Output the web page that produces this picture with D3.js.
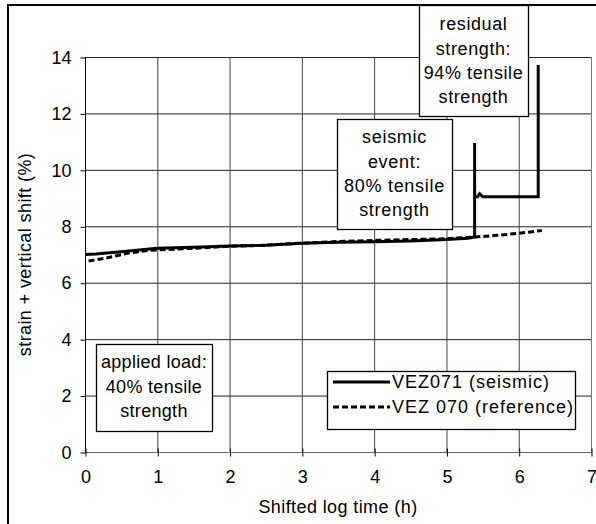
<!DOCTYPE html>
<html>
<head>
<meta charset="utf-8">
<script src="https://cdn.jsdelivr.net/npm/d3@7"></script>
<style>
  html, body { margin: 0; padding: 0; background: #fff; }
  svg { display: block; }
  text { font-family: "Liberation Sans", Arial, sans-serif; font-size: 18px; fill: #000; }
</style>
</head>
<body>
<svg id="chart" width="596" height="524"></svg>
<script>
// ---- data ----
const xTicks = [0, 1, 2, 3, 4, 5, 6, 7];
const yTicks = [0, 2, 4, 6, 8, 10, 12, 14];

const seismicX = [0, 0.15, 0.5, 1.0, 1.5, 2.0, 2.5, 3.0, 3.5, 4.0, 4.5, 5.0, 5.3, 5.39, 5.39, 5.39, 5.43, 5.46, 5.5, 6.0, 6.27, 6.27];
const seismicY = [7.0, 7.02, 7.1, 7.22, 7.26, 7.3, 7.33, 7.4, 7.43, 7.45, 7.48, 7.53, 7.58, 7.62, 10.95, 9.05, 9.05, 9.15, 9.05, 9.05, 9.05, 13.72];

const refX = [0.05, 0.3, 0.6, 0.9, 1.5, 2.0, 2.5, 3.0, 3.5, 4.0, 4.5, 5.0, 5.4, 5.7, 6.0, 6.32];
const refY = [6.77, 6.88, 7.05, 7.15, 7.22, 7.29, 7.33, 7.4, 7.46, 7.5, 7.53, 7.56, 7.62, 7.68, 7.75, 7.85];

const seriesNames = ["VEZ071 (seismic)", "VEZ 070 (reference)"];
const xTitle = "Shifted log time (h)";
const yTitle = "strain + vertical shift (%)";

const notes = [
  { lines: ["residual", "strength:", "94% tensile", "strength"] },
  { lines: ["seismic", "event:", "80% tensile", "strength"] },
  { lines: ["applied load:", "40% tensile", "strength"] }
];

// ---- layout ----
const svg = d3.select("#chart");
const plot = { left: 85, right: 591, top: 57, bottom: 452 };

const x = d3.scaleLinear().domain([0, 7]).range([plot.left, plot.right]);
const y = d3.scaleLinear().domain([0, 14]).range([plot.bottom, plot.top]);

// outer frame
svg.append("rect").attr("x", 8).attr("y", 5).attr("width", 620).attr("height", 560)
  .attr("fill", "none").attr("stroke", "#000").attr("stroke-width", 2);

// grid
const grid = svg.append("g");
grid.selectAll(".gy").data(yTicks.filter(d => d > 0)).enter().append("line")
  .attr("x1", plot.left).attr("x2", plot.right)
  .attr("y1", d => y(d) + 0.5).attr("y2", d => y(d) + 0.5)
  .attr("stroke", "#222").attr("stroke-width", 1);
grid.selectAll(".gx").data(xTicks.filter(d => d > 0 && d < 7)).enter().append("line")
  .attr("y1", plot.top).attr("y2", plot.bottom)
  .attr("x1", d => x(d) + 0.5).attr("x2", d => x(d) + 0.5)
  .attr("stroke", "#444").attr("stroke-width", 1);
// right border
svg.append("line").attr("x1", x(7) + 0.5).attr("x2", x(7) + 0.5)
  .attr("y1", plot.top).attr("y2", plot.bottom)
  .attr("stroke", "#777").attr("stroke-width", 1);

// axes
const xAxis = d3.axisBottom(x).tickValues(xTicks).tickSize(4).tickPadding(18).tickFormat(d3.format("d"));
const gx = svg.append("g").attr("transform", `translate(0.5,${plot.bottom + 0.5})`).call(xAxis);
gx.select(".domain").attr("stroke", "#666").attr("d", `M${plot.left},0H${plot.right}`);
gx.selectAll(".tick line").attr("y1", -4).attr("y2", 4).attr("stroke", "#000");
gx.selectAll(".tick text").attr("font-size", 18).attr("font-family", "Liberation Sans, Arial, sans-serif").attr("dy", "0.71em").attr("y", 18);

const yAxis = d3.axisLeft(y).tickValues(yTicks).tickSize(5).tickPadding(9).tickFormat(d3.format("d"));
const gy = svg.append("g").attr("transform", `translate(${plot.left + 0.5},0.5)`).call(yAxis);
gy.select(".domain").attr("stroke", "#000").attr("d", `M0,${plot.top}V${plot.bottom}`);
gy.selectAll(".tick line").attr("stroke", "#000");
gy.selectAll(".tick text").attr("font-size", 18).attr("font-family", "Liberation Sans, Arial, sans-serif");

// axis titles
svg.append("text").attr("x", (plot.left + plot.right) / 2).attr("y", 513)
  .attr("text-anchor", "middle").style("letter-spacing", "0.4px").text(xTitle);
svg.append("text").attr("transform", `translate(31,${(plot.top + plot.bottom) / 2}) rotate(-90)`)
  .attr("text-anchor", "middle").style("letter-spacing", "0.4px").text(yTitle);

// lines
const line = d3.line().x(d => x(d[0])).y(d => y(d[1]));
const seismicData = seismicX.map((v, i) => [v, seismicY[i]]);
const refData = refX.map((v, i) => [v, refY[i]]);

svg.append("path").datum(refData).attr("d", line)
  .attr("fill", "none").attr("stroke", "#000").attr("stroke-width", 3)
  .attr("stroke-dasharray", "6,3");
svg.append("path").datum(seismicData).attr("d", line)
  .attr("fill", "none").attr("stroke", "#000").attr("stroke-width", 3)
  .attr("stroke-linejoin", "miter");

// annotation boxes
const boxes = [
  { x0: 419, x1: 528, y0: 5, y1: 116, first: 24, step: 24.3, ls: 0.6 },
  { x0: 337, x1: 452, y0: 119, y1: 229, first: 137, step: 24.3, ls: 0.7 },
  { x0: 96, x1: 212, y0: 344, y1: 431, first: 362, step: 24.3, ls: 0.3 }
];
boxes.forEach((b, i) => {
  const g = svg.append("g");
  g.append("rect").attr("x", b.x0 + 0.5).attr("y", b.y0 + 0.5)
    .attr("width", b.x1 - b.x0).attr("height", b.y1 - b.y0)
    .attr("fill", "#fff").attr("stroke", "#000").attr("stroke-width", 1.3);
  notes[i].lines.forEach((t, j) => {
    g.append("text").attr("x", (b.x0 + b.x1) / 2).attr("y", b.first + j * b.step)
      .attr("dy", "0.35em").attr("text-anchor", "middle").style("letter-spacing", b.ls + "px").text(t);
  });
});

// legend
const lg = svg.append("g");
lg.append("rect").attr("x", 327.5).attr("y", 371.5).attr("width", 248).attr("height", 58)
  .attr("fill", "#fff").attr("stroke", "#000").attr("stroke-width", 1.3);
const legendRows = [
  { name: seriesNames[0], dash: null, cy: 382 },
  { name: seriesNames[1], dash: "6,3", cy: 407 }
];
legendRows.forEach(r => {
  const l = lg.append("line").attr("x1", 333).attr("x2", 390).attr("y1", r.cy).attr("y2", r.cy)
    .attr("stroke", "#000").attr("stroke-width", 3);
  if (r.dash) l.attr("stroke-dasharray", r.dash);
  lg.append("text").attr("x", 392).attr("y", r.cy).attr("dy", "0.35em")
    .style("letter-spacing", "1px").text(r.name);
});
</script>
</body>
</html>
